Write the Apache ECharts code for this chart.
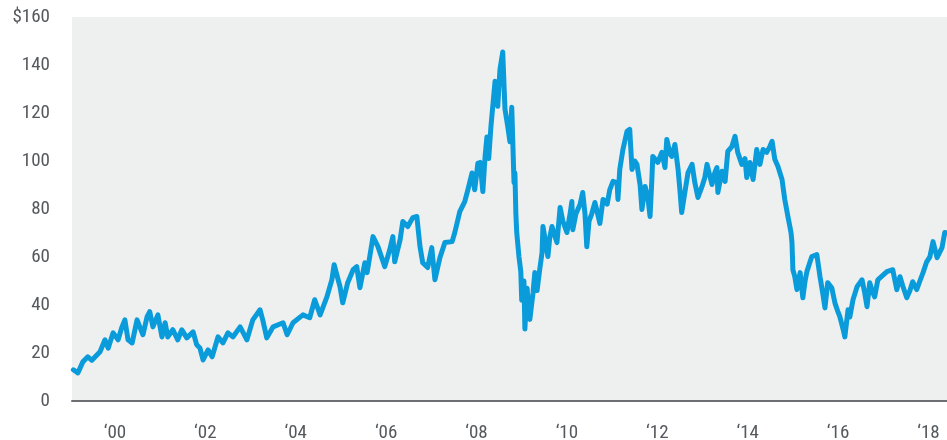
<!DOCTYPE html>
<html>
<head>
<meta charset="utf-8">
<script src="https://cdn.jsdelivr.net/npm/echarts@6/dist/echarts.min.js"></script>
<style>html,body{margin:0;padding:0;background:#fff;}#c{width:947px;height:440px;}</style>
</head>
<body>
<div id="c"></div>
<script>
// dates as decimal years
const years = [
1999.08,1999.18,1999.29,1999.40,1999.49,1999.67,1999.78,1999.85,1999.96,
2000.07,2000.15,2000.22,2000.29,2000.38,2000.49,2000.55,2000.62,2000.71,2000.77,2000.84,2000.95,
2001.04,2001.11,2001.17,2001.28,2001.39,2001.48,2001.59,2001.73,2001.81,2001.88,2001.95,
2002.06,2002.15,2002.28,2002.39,2002.50,2002.61,2002.77,2002.92,
2003.05,2003.21,2003.27,2003.36,2003.50,2003.72,2003.81,2003.94,
2004.16,2004.31,2004.42,2004.54,2004.69,2004.80,2004.85,2004.98,2005.04,2005.15,2005.27,2005.35,2005.42,2005.53,2005.58,2005.71,2005.82,2005.97,
2006.08,2006.15,2006.19,2006.31,2006.37,2006.48,2006.59,2006.68,2006.75,2006.81,2006.92,2007.01,2007.08,2007.19,2007.30,2007.46,2007.52,2007.63,2007.74,2007.81,2007.90,2007.96,
2008.03,2008.08,2008.14,2008.19,2008.23,2008.27,2008.32,2008.36,2008.41,2008.47,2008.52,2008.58,2008.63,2008.69,2008.74,2008.78,2008.83,2008.85,2008.87,2008.89,2008.94,2008.98,
2009.00,2009.05,2009.07,2009.12,2009.16,2009.18,2009.25,2009.29,2009.34,2009.36,2009.40,2009.45,2009.47,2009.54,2009.58,2009.62,2009.67,2009.73,2009.78,2009.85,2009.91,
2010.00,2010.07,2010.11,2010.13,2010.20,2010.29,2010.35,2010.40,2010.44,2010.49,2010.55,2010.62,2010.73,2010.80,2010.89,2010.95,
2011.02,2011.11,2011.13,2011.17,2011.24,2011.33,2011.39,2011.44,2011.50,2011.55,2011.62,2011.66,2011.73,2011.79,2011.84,2011.88,2011.90,
2012.01,2012.10,2012.17,2012.21,2012.28,2012.32,2012.39,2012.46,2012.50,2012.54,2012.61,2012.68,2012.77,2012.83,2012.90,2012.99,
2013.05,2013.10,2013.21,2013.27,2013.32,2013.34,2013.43,2013.50,2013.56,2013.65,2013.72,2013.78,2013.87,2013.94,2013.98,
2014.05,2014.12,2014.20,2014.27,2014.34,2014.42,2014.49,2014.54,2014.60,2014.67,2014.76,2014.82,2014.89,2014.93,2014.96,2014.98,
2015.00,2015.04,2015.09,2015.16,2015.22,2015.27,2015.31,2015.38,2015.42,2015.53,2015.60,2015.66,2015.71,2015.77,2015.86,2015.93,
2016.00,2016.04,2016.11,2016.15,2016.22,2016.26,2016.33,2016.42,2016.53,2016.59,2016.64,2016.70,2016.77,2016.81,2016.88,2016.97,
2017.08,2017.21,2017.30,2017.37,2017.43,2017.52,2017.59,2017.65,2017.74,2017.81,2017.88,2017.96,
2018.03,2018.10,2018.19,2018.25,2018.30,2018.36,2018.41
];
// price, US$ per barrel
const prices = [
13,11.7,16.3,18.4,17,20.5,25.5,22,28.4,
25.5,30.5,33.8,25.5,24.2,33.8,30.9,27.6,35,37.2,30.9,35.9,
26.7,32.6,26.7,29.7,25.5,29.7,26.3,28.8,23.4,22.1,17.1,
21.3,18.4,26.7,24.2,28.4,26.7,30.9,25.5,
33.8,38,33.8,26.3,30.9,32.6,27.6,32.6,
35.9,34.7,42.2,35.9,43.4,50.5,56.8,47.6,40.9,49.3,54.7,56,47.2,57.6,53.5,68.5,64.3,56,
63,68.5,58,67.2,74.8,72.7,76.4,76.9,64.3,57.6,55.6,63.9,50.5,59.7,66,66.4,70.2,78.9,83.1,88.1,95,88,
99,99.4,87.3,101.9,110,101,114.5,114.5,133.2,122.8,138.3,145.4,121.6,114.5,108,122.4,91,95,78.5,70.2,60,54,
42,50,30,47,36,34,45,53.5,46,45.5,55,61.8,72.7,65,60.2,68,72.7,69,66,80.6,75,
70.2,78,83.1,71.4,78,81.9,86.9,78,64.3,75,78,82.7,74,84,82,88.1,
91.5,91,84,96.5,104.8,112.4,113.2,96.5,100,98.6,90,79.8,89.4,85,76.9,92.3,101.9,
99.4,103.6,97.3,109,103,101.9,106.9,96.5,88,78.5,86.9,95.2,98.6,91,84.8,89.4,
93,98.6,90.2,95,97.3,86.9,95.7,91.5,104,106,110.3,103.6,98.6,101,93.1,
99.4,92.3,104.8,98.6,104.8,103.6,106,108.2,100.7,97.7,92.3,84,76.9,73,70,66,
54.7,52,46.4,53.5,43,50,53.9,58,60.2,61,51.8,45,38.8,49.3,47.2,40.9,
37,35.1,30,26.7,38,35,42.2,47.6,50.5,45,39.3,49.3,45,43.4,50.5,52,
53.9,54.7,46.4,51.8,48,43,46,49.7,46.4,50,53.5,58,
60,66.4,59.7,62,63.9,70.2,70
];
const yearTicks = [2000,2002,2004,2006,2008,2010,2012,2014,2016,2018];

const data = years.map((y, i) => [y, prices[i]]);
const FONT = "'Liberation Sans Narrow','Roboto Condensed','DejaVu Sans Condensed',sans-serif";
const chart = echarts.init(document.getElementById('c'), null, {renderer: 'canvas'});
chart.setOption({
  animation: false,
  grid: {left: 72, right: 0, top: 17, bottom: 39, show: true, backgroundColor: '#eeefef', borderWidth: 0,
         containLabel: false, outerBoundsMode: 'none'},
  xAxis: {
    type: 'value', min: 1999.05, max: 2018.41,
    splitLine: {show: false},
    axisTick: {show: false},
    axisLine: {show: true, lineStyle: {color: '#6d6e71', width: 2}},
    axisLabel: {
      customValues: yearTicks,
      color: '#55585c', fontFamily: FONT, fontSize: 19, margin: 23, lineHeight: 19,
      formatter: v => '\u2018' + String(Math.round(v)).slice(2)
    }
  },
  yAxis: {
    type: 'value', min: 0, max: 160, interval: 20,
    splitLine: {show: false},
    axisTick: {show: false},
    axisLine: {show: false},
    axisLabel: {
      color: '#55585c', fontFamily: FONT, fontSize: 19, margin: 22,
      lineHeight: 19, verticalAlign: 'middle', padding: [12, 0, 0, 0],
      formatter: v => v === 160 ? '$160' : String(v)
    }
  },
  series: [{
    type: 'line', data: data, showSymbol: false,
    lineStyle: {color: '#0a9bdb', width: 5, join: 'round', cap: 'round'},
    z: 3
  }]
});
</script>
</body>
</html>
